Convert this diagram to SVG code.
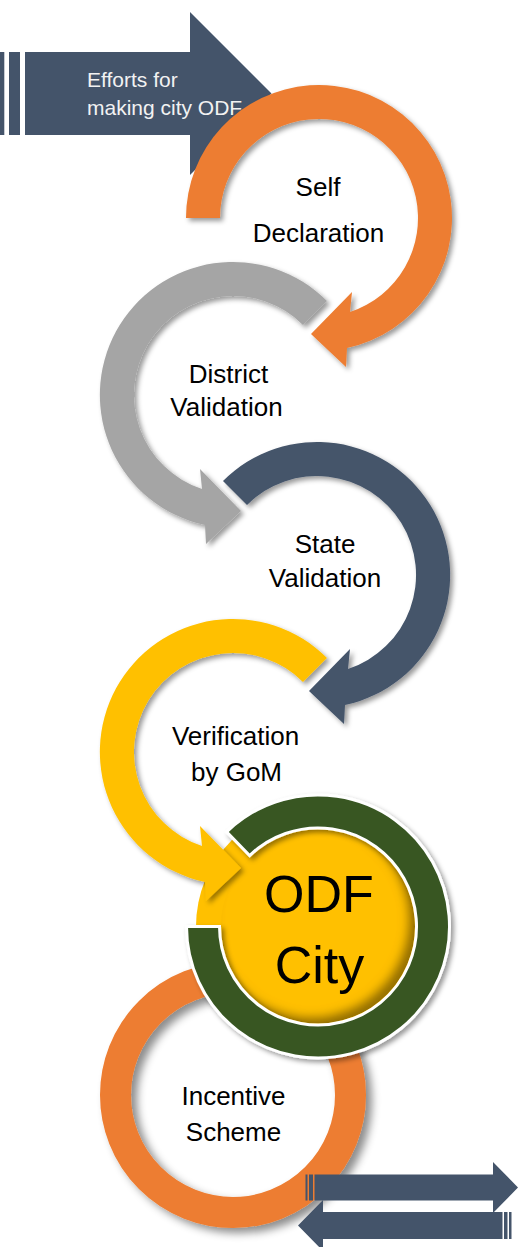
<svg xmlns="http://www.w3.org/2000/svg" width="518" height="1247" viewBox="0 0 518 1247">
<defs>
<filter id="sh" x="-20%" y="-20%" width="140%" height="140%"><feDropShadow dx="3" dy="3" stdDeviation="2.5" flood-color="#000" flood-opacity="0.4"/></filter>
<filter id="sh2" x="-20%" y="-20%" width="140%" height="140%"><feDropShadow dx="6" dy="5" stdDeviation="4" flood-color="#000" flood-opacity="0.45"/></filter>
<filter id="inset" x="-20%" y="-20%" width="140%" height="140%">
<feComponentTransfer in="SourceAlpha" result="inv"><feFuncA type="table" tableValues="1 0"/></feComponentTransfer>
<feGaussianBlur in="inv" stdDeviation="5" result="blur"/>
<feOffset in="blur" dx="-7" dy="-7" result="off"/>
<feFlood flood-color="#4d3a00" flood-opacity="0.75" result="col"/>
<feComposite in="col" in2="off" operator="in" result="shad"/>
<feComposite in="shad" in2="SourceAlpha" operator="in" result="ins"/>
<feMerge><feMergeNode in="SourceGraphic"/><feMergeNode in="ins"/></feMerge>
</filter>
</defs>
<style>
.lbl{font-family:"Liberation Sans",Arial,sans-serif;font-size:26px;fill:#000;text-anchor:middle}
.big{font-family:"Liberation Sans",Arial,sans-serif;font-size:52px;fill:#000;text-anchor:middle}
.wt{font-family:"Liberation Sans",Arial,sans-serif;font-size:21px;fill:#f2f2f2}
.dk{fill:#44546A}
.or{fill:#ED7D31}
.gy{fill:#A5A5A5}
.gd{fill:#FFC000}
.gn{fill:#375623;stroke:#fff;stroke-width:3}
</style>

<g id="efforts">
<rect class="dk" x="0" y="52" width="4.3" height="83"/>
<rect class="dk" x="9" y="52" width="11" height="83"/>
<polygon class="dk" points="25,52 190,52 190,12 271.5,93.5 190,175 190,135 25,135"/>
<text class="wt" x="87" y="87">Efforts for</text>
<text class="wt" x="87" y="115">making city ODF</text>
</g>

<g id="incentive">
<circle cx="233" cy="1095" r="117.5" fill="none" stroke="#ED7D31" stroke-width="31" filter="url(#sh2)"/>
<text class="lbl" x="233.5" y="1105">Incentive</text>
<text class="lbl" x="233.5" y="1141">Scheme</text>
</g>

<g id="odf-city">
<circle class="gd" cx="318" cy="926.5" r="122"/>
<circle class="gd" cx="318" cy="926.5" r="97" filter="url(#inset)"/>
<path class="gn" filter="url(#sh)" d="M226.6,831.9 A131.5,131.5 0 1 1 186.5,926.5 L219.5,926.5 A98.5,98.5 0 1 0 249.6,855.6 Z"/>
<text class="big" x="319" y="912">ODF</text>
<text class="big" x="319.5" y="983">City</text>
</g>

<g id="self-declaration">
<path class="or" filter="url(#sh)" d="M186,218 A133,133 0 1 1 347,348 L346,367 L311,334 L352,292 L350,312 A99,99 0 1 0 220,218 Z"/>
<text class="lbl" x="318" y="196">Self</text>
<text class="lbl" x="318.5" y="242">Declaration</text>
</g>

<g id="district-validation">
<path class="gy" filter="url(#sh)" d="M327,301 A133,133 0 1 0 205,525 L206,544 L241,511 L200,469 L202,489 A99,99 0 1 1 303,325 Z"/>
<text class="lbl" x="228.5" y="383">District</text>
<text class="lbl" x="226.5" y="416">Validation</text>
</g>

<g id="state-validation">
<path class="dk" filter="url(#sh)" d="M223,481 A133,133 0 1 1 345,705 L344,724 L309,691 L350,649 L348,669 A99,99 0 1 0 247,505 Z"/>
<text class="lbl" x="325" y="553">State</text>
<text class="lbl" x="325" y="587">Validation</text>
</g>

<g id="verification-gom">
<path class="gd" filter="url(#sh)" d="M327,658 A133,133 0 1 0 205,882 L206,901 L241,868 L200,826 L202,846 A99,99 0 1 1 303,682 Z"/>
<text class="lbl" x="235.5" y="745">Verification</text>
<text class="lbl" x="236.5" y="781">by GoM</text>
</g>

<g id="connectors">
<rect class="dk" x="305.5" y="1174.5" width="2" height="26"/>
<rect class="dk" x="309" y="1174.5" width="4" height="26"/>
<polygon class="dk" points="314.5,1174.5 493,1174.5 493,1162 518,1187.5 493,1213 493,1200.5 314.5,1200.5"/>
<polygon class="dk" points="502.5,1212 323,1212 323,1200 298,1225.5 323,1251 323,1239 502.5,1239"/>
<rect class="dk" x="504" y="1212" width="3.5" height="27"/>
<rect class="dk" x="509" y="1212" width="2.5" height="27"/>
</g>
</svg>
